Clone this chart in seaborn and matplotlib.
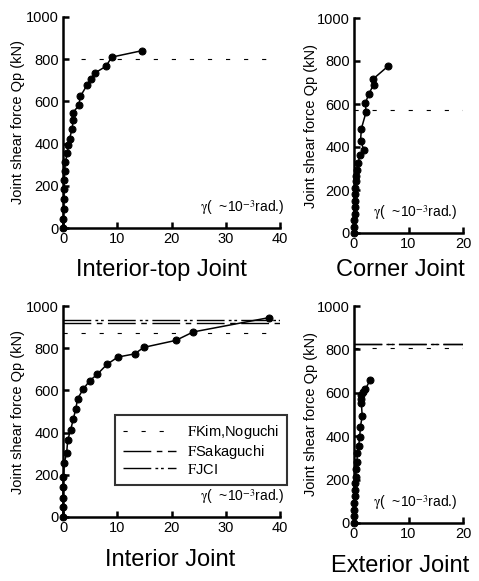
import matplotlib
matplotlib.use("Agg")
import matplotlib.pyplot as plt
import seaborn as sns
import pandas as pd
from matplotlib.lines import Line2D

# ---------------- data ----------------
top_int_gamma = [0.0, 0.05, 0.1, 0.15, 0.2, 0.25, 0.3, 0.45, 0.8, 1.0, 1.2, 1.7, 1.85, 1.85,
                 2.9, 3.2, 4.4, 5.1, 5.9, 7.9, 9.0, 14.5]
top_int_q = [0, 44, 92, 139, 186, 226, 270, 313, 355, 392, 423, 471, 510, 547,
             581, 624, 676, 706, 735, 766, 810, 840]

corner_gamma = [0.0, 0.0, 0.05, 0.1, 0.1, 0.15, 0.2, 0.25, 0.3, 0.37, 0.55, 0.8, 1.05, 1.8,
                1.2, 1.35, 2.2, 2.1, 2.7, 3.6, 3.5, 6.2]
corner_q = [0, 30, 60, 90, 120, 150, 180, 210, 240, 264, 295, 326, 364, 388,
            429, 485, 561, 605, 646, 690, 716, 775]

int_gamma = [0.0, 0.0, 0.0, 0.0, 0.06, 0.25, 0.68, 0.87, 1.4, 1.9, 2.35, 2.7, 3.7, 4.9,
             6.3, 8.1, 10.1, 13.2, 14.9, 20.8, 24.0, 38.0]
int_q = [0, 47, 90, 142, 190, 256, 305, 365, 412, 464, 512, 561, 605, 645,
         676, 723, 758, 773, 804, 837, 877, 945]

ext_gamma = [0.0, 0.0, 0.05, 0.05, 0.1, 0.1, 0.2, 0.3, 0.43, 0.55, 0.6, 0.86, 1.05, 1.17,
             1.5, 1.36, 1.23, 1.36, 1.67, 2.1, 3.0]
ext_q = [0, 31, 61, 92, 123, 153, 184, 214, 250, 280, 322, 355, 398, 441,
         493, 551, 570, 590, 605, 617, 661]

# reference strengths (kN)
ref_top_int = {"Kim": 800}
ref_corner = {"Kim": 570}
ref_int = {"Kim": 872, "Sakaguchi": 919, "JCI": 934}
ref_ext = {"Kim": 805, "Sakaguchi": 827, "JCI": 827}

titles = ["Interior-top Joint", "Corner Joint", "Interior Joint", "Exterior Joint"]
legend_labels = [r"$\mathrm{F}$Kim,Noguchi", r"$\mathrm{F}$Sakaguchi", r"$\mathrm{F}$JCI"]
ylabel = "Joint shear force Qp (kN)"
gamma_label = r"$\mathrm{\gamma}$(  ~10$^{\mathrm{-3}}$rad.)"

# ---------------- style ----------------
sns.set_style("ticks")
plt.rcParams["font.family"] = ["Liberation Sans", "DejaVu Sans"]
plt.rcParams["mathtext.fontset"] = "stix"
plt.rcParams["lines.scale_dashes"] = False
for k in ["text.color", "axes.labelcolor", "xtick.color", "ytick.color", "axes.edgecolor"]:
    plt.rcParams[k] = "black"

W, H = 479, 581
fig = plt.figure(figsize=(W / 100, H / 100), dpi=100)


def px_axes(x0, x1, ytop, ybot):
    return fig.add_axes([x0 / W, 1 - ybot / H, (x1 - x0) / W, (ybot - ytop) / H])


styles = {
    "Kim": dict(linestyle=(0, (3, 10)), linewidth=0.8),
    "Sakaguchi": dict(linestyle=(0, (20, 4, 4, 4)), linewidth=1.0),
    "JCI": dict(linestyle=(0, (20, 3, 2, 2, 2, 3)), linewidth=1.0),
}

panels = [
    (px_axes(63, 280, 17, 228), top_int_gamma, top_int_q, ref_top_int, 40, -0.175),
    (px_axes(354, 463, 18, 233), corner_gamma, corner_q, ref_corner, 20, -0.33),
    (px_axes(63, 280, 306, 517), int_gamma, int_q, ref_int, 40, -0.175),
    (px_axes(354, 463, 306, 523), ext_gamma, ext_q, ref_ext, 20, -0.33),
]

for ax, gx, gy, refs, xmax, ylab_x in panels:
    for key, val in refs.items():
        ax.axhline(val, color="black", **styles[key])
    df = pd.DataFrame({"gamma": gx, "Q": gy})
    sns.lineplot(data=df, x="gamma", y="Q", ax=ax, sort=False, estimator=None,
                 color="black", linewidth=1.1, marker="o", markersize=5,
                 markeredgecolor="black", clip_on=False)
    ax.set_xlim(0, xmax)
    ax.set_ylim(0, 1000)
    ax.set_xticks(range(0, xmax + 1, 10))
    ax.set_yticks(range(0, 1001, 200))
    for s in ["top", "right"]:
        ax.spines[s].set_visible(False)
    for s in ["left", "bottom"]:
        ax.spines[s].set_linewidth(1.8)
    ax.tick_params(direction="in", length=4, width=1.8, labelsize=10.5, pad=3)
    ax.tick_params(axis="x", pad=3)
    ax.set_xlabel("")
    ax.set_ylabel(ylabel, fontsize=10.5)
    ax.yaxis.set_label_coords(ylab_x, 0.5)
    ax.text(0.63 if xmax == 40 else 0.17, 0.095, gamma_label, transform=ax.transAxes,
            fontsize=10, ha="left", va="center")

# legend in Interior Joint panel
handles = [Line2D([], [], color="black", **styles[k]) for k in ["Kim", "Sakaguchi", "JCI"]]
leg = panels[2][0].legend(handles, legend_labels, loc="upper left",
                          bbox_to_anchor=((115 - 63) / 217, (517 - 415) / 211),
                          frameon=True, fancybox=False, fontsize=10.5,
                          handlelength=3.6, handletextpad=0.8, labelspacing=0.12,
                          borderpad=0.55, borderaxespad=0)
leg.get_frame().set_edgecolor("black")
leg.get_frame().set_linewidth(1.5)

# panel titles
fig.text(161 / W, 1 - 270 / H, titles[0], fontsize=17, ha="center", va="center")
fig.text(400 / W, 1 - 270 / H, titles[1], fontsize=17, ha="center", va="center")
fig.text(170 / W, 1 - 560 / H, titles[2], fontsize=17, ha="center", va="center")
fig.text(400 / W, 1 - 566 / H, titles[3], fontsize=17, ha="center", va="center")

fig.savefig("out.png", dpi=100)
